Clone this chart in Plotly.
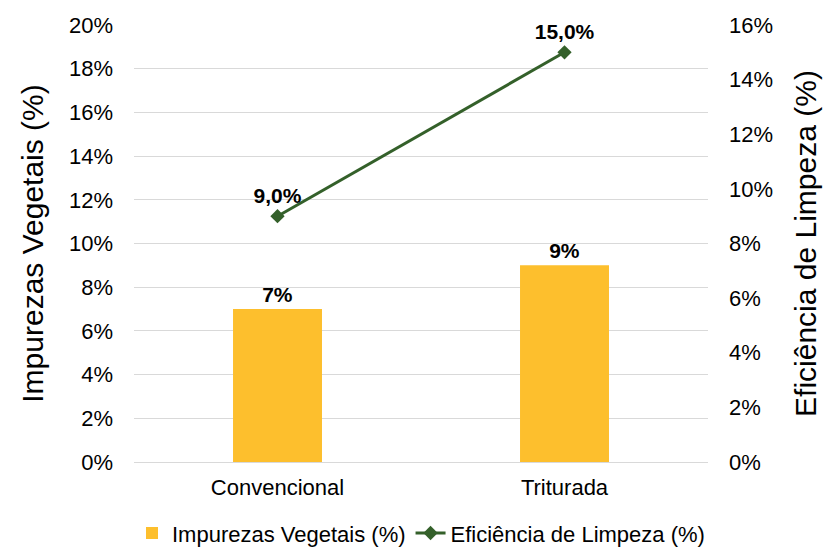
import plotly.graph_objects as go

categorias = ["Convencional", "Triturada"]
impurezas = [7, 9]          # Impurezas Vegetais (%)
eficiencia = [9.0, 15.0]    # Eficiência de Limpeza (%)

FONT = "Liberation Sans, Arial, sans-serif"
TICK = 22

fig = go.Figure()

fig.add_trace(go.Bar(
    x=categorias, y=impurezas,
    name="Impurezas Vegetais (%)",
    marker=dict(color="#FDBF2D", line=dict(width=0)),
    width=0.31,
    texttemplate="%{y:.0f}%", textposition="outside",
    textfont=dict(family=FONT, size=21, color="#000000", weight="bold"),
    cliponaxis=False,
))

fig.add_trace(go.Scatter(
    x=categorias, y=eficiencia,
    name="Eficiência de Limpeza (%)",
    yaxis="y2",
    mode="lines+markers+text",
    line=dict(color="#34602A", width=3),
    marker=dict(symbol="diamond", size=11, color="#34602A"),
    texttemplate="%{y:.1f}%", textposition="top center",
    textfont=dict(family=FONT, size=21, color="#000000", weight="bold"),
    cliponaxis=False,
))

fig.update_layout(
    width=829, height=548,
    margin=dict(l=134, r=121, t=25, b=86),
    paper_bgcolor="white", plot_bgcolor="white",
    separators=",.",
    font=dict(family=FONT, color="#000000"),
    bargap=0.69,
    xaxis=dict(
        showgrid=False, showline=True, linecolor="#D9D9D9", linewidth=1,
        ticks="", tickfont=dict(size=TICK), ticklabelstandoff=6,
    ),
    yaxis=dict(
        range=[0, 20], dtick=2, ticksuffix="%",
        showgrid=True, gridcolor="#D9D9D9", gridwidth=1,
        zeroline=False, showline=False, ticks="",
        tickfont=dict(size=TICK), ticklabelstandoff=20,
        title=dict(text="Impurezas Vegetais (%)", font=dict(size=30), standoff=16),
    ),
    yaxis2=dict(
        range=[0, 16], dtick=2, ticksuffix="%",
        overlaying="y", side="right",
        showgrid=False, zeroline=False, showline=False, ticks="",
        tickfont=dict(size=TICK), ticklabelstandoff=20,
        title=dict(text="Eficiência de Limpeza (%)", font=dict(size=30), standoff=22),
    ),
    legend=dict(
        orientation="h", x=0.5, xanchor="center",
        yref="container", y=0.027, yanchor="middle",
        font=dict(size=22), itemwidth=30, tracegroupgap=0,
    ),
)

fig.write_html("out.html")
